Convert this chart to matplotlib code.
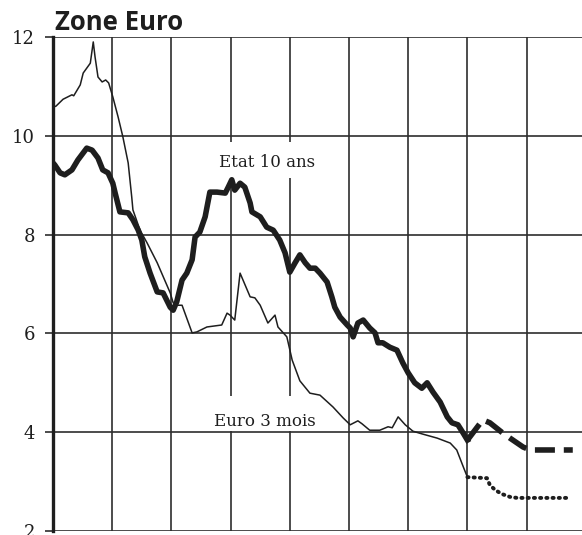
import numpy as np
import matplotlib
matplotlib.use("Agg")
from matplotlib import pyplot as plt
from matplotlib.patches import Rectangle

# Etat 10 ans (thick line), observed
bond_x = [1992.00, 1992.03, 1992.12, 1992.20, 1992.32, 1992.42, 1992.57, 1992.66, 1992.76,
          1992.84, 1992.93, 1993.01, 1993.05, 1993.13, 1993.27, 1993.35, 1993.44, 1993.50,
          1993.55, 1993.64, 1993.76, 1993.86, 1993.98, 1994.03, 1994.09, 1994.18, 1994.26,
          1994.35, 1994.40, 1994.48, 1994.57, 1994.65, 1994.77, 1994.91, 1994.96, 1995.02,
          1995.07, 1995.16, 1995.24, 1995.33, 1995.36, 1995.50, 1995.61, 1995.72, 1995.83,
          1995.92, 1996.00, 1996.09, 1996.17, 1996.26, 1996.34, 1996.43, 1996.51, 1996.63,
          1996.71, 1996.76, 1996.85, 1996.97, 1997.02, 1997.07, 1997.15, 1997.24, 1997.35,
          1997.44, 1997.49, 1997.57, 1997.69, 1997.81, 1997.91, 1998.00, 1998.11, 1998.23,
          1998.32, 1998.42, 1998.54, 1998.66, 1998.74, 1998.84, 1998.93, 1999.00]
bond_y = [9.45, 9.41, 9.25, 9.21, 9.31, 9.51, 9.75, 9.71, 9.55,
          9.31, 9.25, 9.04, 8.84, 8.46, 8.44, 8.30, 8.09, 7.89,
          7.55, 7.22, 6.84, 6.82, 6.53, 6.47, 6.64, 7.08, 7.22,
          7.49, 7.95, 8.05, 8.36, 8.86, 8.86, 8.84, 8.96, 9.11,
          8.90, 9.04, 8.96, 8.64, 8.46, 8.36, 8.15, 8.09, 7.89,
          7.63, 7.24, 7.43, 7.59, 7.43, 7.32, 7.32, 7.22, 7.04,
          6.74, 6.53, 6.33, 6.17, 6.11, 5.93, 6.21, 6.27, 6.11,
          6.01, 5.81, 5.81, 5.72, 5.66, 5.40, 5.20, 5.00, 4.89,
          5.00, 4.81, 4.61, 4.31, 4.19, 4.15, 3.98, 3.84]

# Etat 10 ans, projection (dashed)
bond_fc_x = [1999.00, 1999.26, 1999.38, 1999.58, 1999.72, 1999.94, 2000.06, 2000.78]
bond_fc_y = [3.84, 4.25, 4.19, 4.00, 3.88, 3.70, 3.64, 3.64]

# Euro 3 mois (thin line), observed
m3_x = [1992.00, 1992.05, 1992.17, 1992.32, 1992.35, 1992.46, 1992.51, 1992.57, 1992.63,
        1992.68, 1992.71, 1992.76, 1992.83, 1992.89, 1992.94, 1993.01, 1993.10, 1993.18,
        1993.27, 1993.33, 1993.35, 1993.47, 1993.59, 1993.76, 1993.98, 1994.03, 1994.09,
        1994.18, 1994.35, 1994.43, 1994.60, 1994.85, 1994.94, 1994.99, 1995.07, 1995.16,
        1995.33, 1995.41, 1995.50, 1995.63, 1995.75, 1995.80, 1995.95, 1996.04, 1996.17,
        1996.34, 1996.51, 1996.73, 1996.90, 1997.02, 1997.15, 1997.22, 1997.35, 1997.52,
        1997.66, 1997.73, 1997.83, 1997.95, 1998.08, 1998.25, 1998.49, 1998.71, 1998.82,
        1998.93, 1999.00]
m3_y = [10.58, 10.60, 10.74, 10.83, 10.81, 11.03, 11.27, 11.37, 11.47,
        11.90, 11.60, 11.19, 11.09, 11.13, 11.07, 10.79, 10.38, 9.98,
        9.45, 8.76, 8.50, 8.09, 7.83, 7.43, 6.82, 6.62, 6.57,
        6.57, 6.01, 6.03, 6.13, 6.17, 6.41, 6.37, 6.27, 7.22,
        6.74, 6.72, 6.57, 6.21, 6.37, 6.13, 5.93, 5.46, 5.04,
        4.79, 4.75, 4.51, 4.29, 4.15, 4.23, 4.17, 4.04, 4.04,
        4.11, 4.09, 4.31, 4.15, 4.02, 3.96, 3.88, 3.78, 3.64,
        3.30, 3.09]

# Euro 3 mois, projection (dotted)
m3_fc_x = [1999.00, 1999.33, 1999.38, 1999.47, 1999.58, 1999.72, 1999.84, 2000.06, 2000.73]
m3_fc_y = [3.09, 3.07, 2.93, 2.83, 2.75, 2.69, 2.67, 2.67, 2.67]

y_ticks = [2, 4, 6, 8, 10, 12]
year_lines = list(range(1992, 2001))

ink = "#1e1e1e"
grid = "#2e2e2e"

fig = plt.figure(figsize=(5.82, 5.35), dpi=100)
ax = fig.add_axes([53 / 582, 4 / 535, 529 / 582, 494 / 535])

ax.set_xlim(1992, 1992 + 529 / 59.2)
ax.set_ylim(2, 12)

for yr in year_lines:
    ax.axvline(yr, color=grid, lw=1.2, zorder=1)
for v in y_ticks:
    ax.axhline(v, color=grid, lw=1.2, zorder=1)

ax.plot(m3_x, m3_y, color=ink, lw=1.1, zorder=4)
ax.plot(m3_fc_x, m3_fc_y, color=ink, lw=2.8, linestyle=(0, (0.3, 1.3)),
        dash_capstyle="round", zorder=4)
ax.plot(bond_x, bond_y, color=ink, lw=4.0, solid_joinstyle="round", zorder=5)
ax.plot(bond_fc_x, bond_fc_y, color=ink, lw=4.0, linestyle=(0, (3.6, 1.6)), zorder=5)

# white backing behind the two series labels (interrupts the grid)
ax.add_patch(Rectangle((1994.74, 9.15), 1.76, 0.72, facecolor="white", edgecolor="none", zorder=2))
ax.add_patch(Rectangle((1994.74, 4.03), 1.76, 0.70, facecolor="white", edgecolor="none", zorder=2))

lab = dict(family="DejaVu Serif", fontsize=12, color=ink, ha="center", va="center", zorder=3)
ax.text(1995.61, 9.45, "Etat 10 ans", **lab)
ax.text(1995.58, 4.21, "Euro 3 mois", **lab)

for s in ["top", "right", "bottom"]:
    ax.spines[s].set_visible(False)
ax.spines["left"].set_linewidth(2.4)
ax.spines["left"].set_color(ink)
ax.spines["left"].set_zorder(6)

ax.set_xticks([])
ax.set_yticks(y_ticks)
ax.set_yticklabels([str(v) for v in y_ticks], family="DejaVu Serif", fontsize=13, color=ink)
ax.tick_params(axis="y", length=6, width=1.2, color=grid, pad=7)

fig.text(55 / 582, 1 - 23 / 535, "Zone Euro", family="Open Sans", fontweight="bold",
         fontsize=18.5, color=ink, ha="left", va="center")

fig.savefig("out.png", dpi=100)
